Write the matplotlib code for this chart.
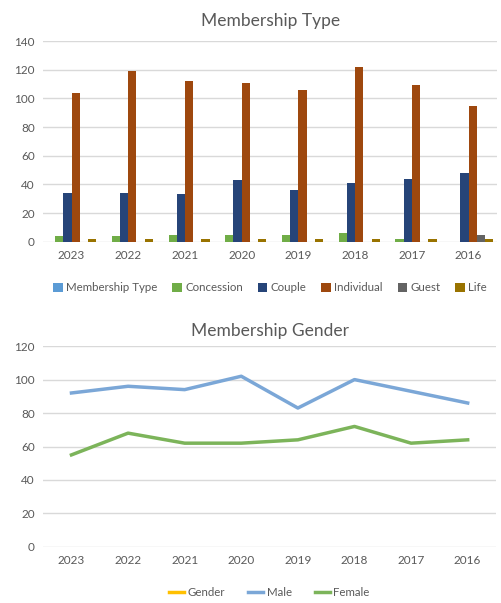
import matplotlib.pyplot as plt
import numpy as np

years = ["2023", "2022", "2021", "2020", "2019", "2018", "2017", "2016"]

# membership type counts per year
membership_type = [0, 0, 0, 0, 0, 0, 0, 0]
concession = [4, 4, 5, 5, 5, 6, 2, 0]
couple = [34, 34, 33, 43, 36, 41, 44, 48]
individual = [104, 119, 112, 111, 106, 122, 109, 95]
guest = [0, 0, 0, 0, 0, 0, 0, 5]
life = [2, 2, 2, 2, 2, 2, 2, 2]

# membership gender counts per year
gender = [np.nan] * 8
male = [92, 96, 94, 102, 83, 100, 93, 86]
female = [55, 68, 62, 62, 64, 72, 62, 64]

TEXT = "#595959"
GRID = "#d9d9d9"
FONT = "Lato"


def style_axes(ax, ymax, step):
    ax.set_ylim(0, ymax)
    ax.set_yticks(np.arange(0, ymax + 1, step))
    ax.set_xlim(-0.5, len(years) - 0.5)
    ax.set_xticks(np.arange(len(years)))
    ax.set_xticklabels(years)
    ax.grid(axis="y", color=GRID, linewidth=1)
    ax.set_axisbelow(True)
    for s in ax.spines.values():
        s.set_visible(False)
    ax.tick_params(length=0, colors=TEXT, labelsize=8.5, pad=6)
    for lab in ax.get_xticklabels() + ax.get_yticklabels():
        lab.set_fontfamily(FONT)


def main():
    fig = plt.figure(figsize=(5.02, 6.03), dpi=100)

    # bar chart
    ax1 = fig.add_axes([0.086, 0.599, 0.904, 0.333])
    series = [
        ("Membership Type", membership_type, "#5b9bd5"),
        ("Concession", concession, "#70ad47"),
        ("Couple", couple, "#264478"),
        ("Individual", individual, "#9e480e"),
        ("Guest", guest, "#636363"),
        ("Life", life, "#997300"),
    ]
    x = np.arange(len(years))
    w = 0.145
    for i, (name, vals, col) in enumerate(series):
        ax1.bar(x + (i - 2.5) * w, vals, w, color=col, label=name)
    style_axes(ax1, 140, 20)
    ax1.set_title("Membership Type", color=TEXT, fontsize=12.5, fontfamily=FONT, pad=11)
    ax1.legend(loc="upper center", bbox_to_anchor=(0.5, -0.15), ncol=6, frameon=False,
               handlelength=0.8, handleheight=0.8, handletextpad=0.3, columnspacing=1.3,
               prop={"family": FONT, "size": 8.3}, labelcolor=TEXT)

    # line chart
    ax2 = fig.add_axes([0.086, 0.093, 0.902, 0.333])
    ax2.plot(x, gender, color="#ffc000", linewidth=2.5, label="Gender")
    ax2.plot(x, male, color="#7ba7d7", linewidth=2.5, label="Male")
    ax2.plot(x, female, color="#7cb45a", linewidth=2.5, label="Female")
    style_axes(ax2, 120, 20)
    ax2.set_title("Membership Gender", color=TEXT, fontsize=12.5, fontfamily=FONT, pad=7)
    ax2.legend(loc="upper center", bbox_to_anchor=(0.5, -0.15), ncol=3, frameon=False,
               handlelength=1.3, handletextpad=0.3, columnspacing=2.0,
               prop={"family": FONT, "size": 8.3}, labelcolor=TEXT)

    fig.savefig("out.png", dpi=100, facecolor="white")


if __name__ == "__main__":
    main()
